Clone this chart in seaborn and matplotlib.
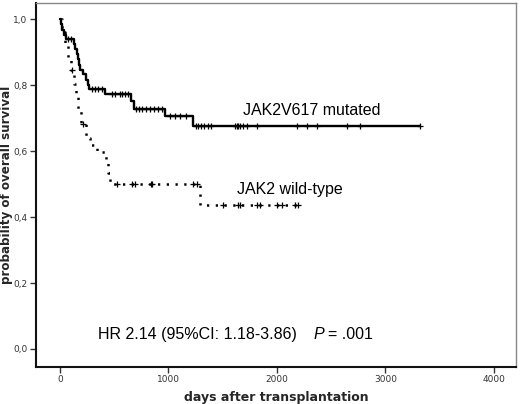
import numpy as np
import pandas as pd
import matplotlib
matplotlib.use("Agg")
import matplotlib.pyplot as plt
import seaborn as sns

# ---- data ----
mut_event_days = [8, 18, 35, 55, 130, 140, 155, 165, 175, 185, 215, 240, 255, 270, 415, 655, 685, 965, 1230]
mut_event_surv = [0.985, 0.969, 0.954, 0.940, 0.925, 0.909, 0.894, 0.879, 0.863, 0.848, 0.833, 0.817,
                  0.802, 0.788, 0.775, 0.752, 0.729, 0.707, 0.677]
mut_censor_days = [75, 100, 292, 322, 353, 384, 476, 507, 553, 568, 599, 630, 700, 725, 760, 795, 830, 870,
                   905, 940, 1010, 1060, 1110, 1160, 1250, 1275, 1300, 1330, 1360, 1395, 1615, 1630, 1645,
                   1660, 1690, 1720, 1815, 2180, 2275, 2365, 2645, 2765, 3320]

wt_event_days = [15, 45, 75, 100, 130, 145, 165, 190, 240, 275, 340, 428, 440, 460, 1290]
wt_event_surv = [0.962, 0.923, 0.885, 0.846, 0.805, 0.765, 0.724, 0.684, 0.641, 0.620, 0.598,
                 0.570, 0.535, 0.500, 0.436]
wt_censor_days = [115, 215, 525, 660, 690, 836, 850, 1230, 1260, 1500, 1640, 1660, 1815, 1840,
                  2000, 2050, 2165, 2195]

x_ticks = [0, 1000, 2000, 3000, 4000]
y_ticks = [0.0, 0.2, 0.4, 0.6, 0.8, 1.0]
y_tick_labels = ["0,0", "0,2", "0,4", "0,6", "0,8", "1,0"]

label_mut = "JAK2V617 mutated"
label_wt = "JAK2 wild-type"
hr_text = "HR 2.14 (95%CI: 1.18-3.86)"
p_text = "= .001"


def km_frame(ev_days, ev_surv, cens_days):
    end = max(max(ev_days), max(cens_days))
    t = [0] + list(ev_days) + [end]
    s = [1.0] + list(ev_surv) + [ev_surv[-1]]
    line = pd.DataFrame({"days": t, "surv": s})
    ev = np.array(ev_days)
    sv = np.array([1.0] + list(ev_surv))
    cd = np.array(cens_days)
    idx = np.searchsorted(ev, cd, side="right")
    cens = pd.DataFrame({"days": cd, "surv": sv[idx]})
    return line, cens


mut_line, mut_cens = km_frame(mut_event_days, mut_event_surv, mut_censor_days)
wt_line, wt_cens = km_frame(wt_event_days, wt_event_surv, wt_censor_days)

sns.set_style("white")
plt.rcParams["font.family"] = ["Liberation Sans", "DejaVu Sans"]

fig = plt.figure(figsize=(5.2, 4.04), dpi=100)
ax = fig.add_axes([36 / 520, 37 / 404, 480 / 520, 364 / 404])

sns.lineplot(data=mut_line, x="days", y="surv", ax=ax, color="black", lw=1.7,
             drawstyle="steps-post", estimator=None, sort=False)
sns.lineplot(data=wt_line, x="days", y="surv", ax=ax, color="black", lw=1.8,
             drawstyle="steps-post", estimator=None, sort=False,
             dashes=False, linestyle=(0, (0.9, 2.6)))
sns.scatterplot(data=mut_cens, x="days", y="surv", ax=ax, marker="+", s=22, color="black",
                linewidth=0.9)
sns.scatterplot(data=wt_cens, x="days", y="surv", ax=ax, marker="+", s=22, color="black",
                linewidth=0.9)

ax.set_xlim(-221, 4203)
ax.set_ylim(-0.055, 1.05)
ax.set_xticks(x_ticks)
ax.set_xticklabels([str(v) for v in x_ticks])
ax.set_yticks(y_ticks)
ax.set_yticklabels(y_tick_labels)
ax.tick_params(axis="both", which="both", direction="out", length=4, width=1, color="#333333",
               labelsize=6.5, labelcolor="#333333", bottom=True, left=True, pad=2)
for lab in ax.get_xticklabels() + ax.get_yticklabels():
    lab.set_family("DejaVu Sans")

ax.set_xlabel("days after transplantation", fontsize=9, fontweight="bold", family="DejaVu Sans",
              labelpad=5)
ax.set_ylabel("probability of overall survival", fontsize=8.6, fontweight="bold",
              family="DejaVu Sans")
ax.yaxis.set_label_coords(-0.047, 0.5)

for side in ["left", "bottom"]:
    ax.spines[side].set_color("#111111")
    ax.spines[side].set_linewidth(1.5)
for side in ["top", "right"]:
    ax.spines[side].set_color("#888888")
    ax.spines[side].set_linewidth(1.0)

ax.text(1687, 0.709, label_mut, fontsize=11.5, color="black", va="baseline", ha="left")
ax.text(1631, 0.47, label_wt, fontsize=11.5, color="black", va="baseline", ha="left")
ax.text(353, 0.029, hr_text, fontsize=11.5, color="black", va="baseline", ha="left")
ax.text(2333, 0.029, "P", fontsize=11.5, style="italic", color="black", va="baseline", ha="left")
ax.text(2470, 0.029, p_text, fontsize=11.5, color="black", va="baseline", ha="left")

fig.savefig("out.png", dpi=100)
